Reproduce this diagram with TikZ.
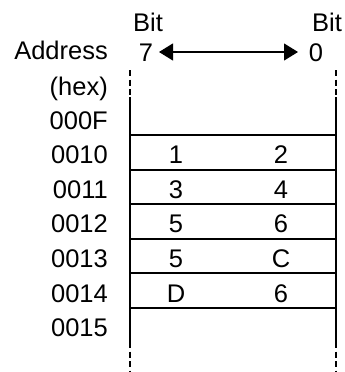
\documentclass[tikz,border=0pt]{standalone}
\usepackage{fontspec}
\setmainfont{Liberation Sans}
\usetikzlibrary{arrows.meta}
\begin{document}
\begin{tikzpicture}[x=1pt,y=-1pt,line cap=butt,font=\fontsize{25.5}{30}\selectfont,
  wall/.style={line width=2pt},
  gap/.style={line width=2pt,dash pattern=on 6pt off 3.5pt},
  addr/.style={anchor=base east,inner sep=0pt},
  cell/.style={anchor=base,inner sep=0pt}]
  \useasboundingbox (0,0) rectangle (345,372);
  \def\xl{129.5} \def\xr{336} \def\h{34.6}
  % headings
  \node[anchor=base,inner sep=0pt] (bitL) at (148,31) {Bit};
  \node[anchor=base,inner sep=0pt] (bitR) at (327,31) {Bit};
  \node[anchor=base,inner sep=0pt] (seven) at (146,61) {7};
  \node[anchor=base,inner sep=0pt] (zero) at (316,61) {0};
  \coordinate (a1) at (159,52); \coordinate (a2) at (298,52);
  \draw[line width=1.2pt,{Triangle[length=14pt,width=17pt]}-{Triangle[length=14pt,width=17pt]}]
    (a1) -- (a2);
  \node[addr] (head) at (108,59) {Address};
  \node[addr] (hex) at (108,95) {(hex)};
  % memory column
  \draw[gap] (\xl,70) -- (\xl,97); \draw[gap] (\xr,70) -- (\xr,97);
  \draw[wall] (\xl,97) -- (\xl,342); \draw[wall] (\xr,97) -- (\xr,342);
  \draw[gap] (\xl,342) -- (\xl,372); \draw[gap] (\xr,342) -- (\xr,372);
  \foreach \k in {0,...,5}
    \draw[wall] (\xl,135+\k*\h) -- (\xr,135+\k*\h);
  % addresses and contents
  \foreach \a [count=\i from 0] in {000F,0010,0011,0012,0013,0014,0015}
    \node[addr] (ad\i) at (108,129+\i*\h) {\a};
  \foreach \p/\q [count=\i] in {1/2,3/4,5/6,5/C,D/6} {
    \node[cell] (hi\i) at (176,129+\i*\h) {\p};
    \node[cell] (lo\i) at (281,129+\i*\h) {\q};
  }
\end{tikzpicture}
\end{document}
